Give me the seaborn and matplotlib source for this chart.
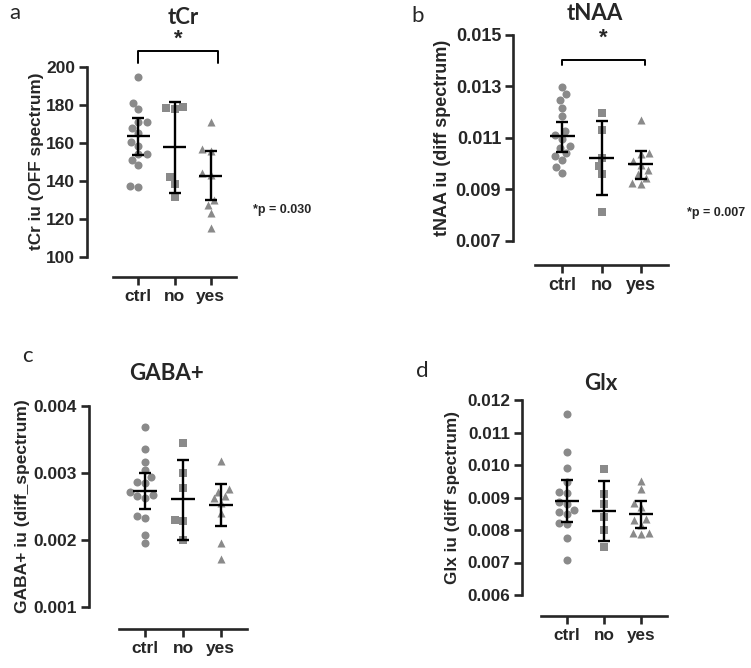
import numpy as np
import pandas as pd
import matplotlib
matplotlib.use("Agg")
import matplotlib.pyplot as plt
import seaborn as sns

GROUPS = ["ctrl", "no", "yes"]
MARKERS = ["o", "s", "^"]

# values
TCR_CTRL = [194.4, 180.7, 177.6, 171.0, 171.0, 167.6, 165.0, 160.5, 158.3,
            154.0, 153.9, 150.9, 148.3, 136.8, 137.2]
TCR_NO = [178.5, 179.0, 178.0, 141.8, 138.3, 131.6]
TCR_YES = [171.0, 155.5, 156.5, 144.0, 143.0, 130.0, 127.0, 123.0, 115.0]
TCR_MEAN = [163.5, 157.5, 142.5]
TCR_LO = [153.5, 133.5, 130.0]
TCR_HI = [173.0, 181.5, 155.5]

TNAA_CTRL = [0.01297, 0.01268, 0.01245, 0.01215, 0.01183, 0.01125, 0.01110,
             0.01095, 0.01068, 0.01060, 0.01040, 0.01027, 0.01012, 0.00985,
             0.00963]
TNAA_NO = [0.01195, 0.01130, 0.01020, 0.00990, 0.00960, 0.00810]
TNAA_YES = [0.01170, 0.01040, 0.01035, 0.01010, 0.00995, 0.00975, 0.00960,
            0.00945, 0.00925, 0.00920]
TNAA_MEAN = [0.01106, 0.01020, 0.00996]
TNAA_LO = [0.01046, 0.00877, 0.00939]
TNAA_HI = [0.01162, 0.01166, 0.01049]

GABA_CTRL = [0.00368, 0.00335, 0.00317, 0.00305, 0.00294, 0.00287, 0.00285,
             0.00272, 0.00267, 0.00265, 0.00262, 0.00235, 0.00232, 0.00207,
             0.00195]
GABA_NO = [0.00345, 0.00300, 0.00277, 0.00230, 0.00228, 0.00200]
GABA_YES = [0.00318, 0.00276, 0.00272, 0.00265, 0.00262, 0.00255, 0.00240,
            0.00195, 0.00172]
GABA_MEAN = [0.002734, 0.002605, 0.00252]
GABA_LO = [0.002455, 0.00200, 0.002206]
GABA_HI = [0.003003, 0.00320, 0.002835]

GLX_CTRL = [0.01156, 0.01039, 0.00990, 0.00949, 0.00918, 0.00915, 0.00885,
            0.00880, 0.00862, 0.00855, 0.00850, 0.00822, 0.00820, 0.00776,
            0.00708]
GLX_NO = [0.00988, 0.00910, 0.00880, 0.00840, 0.00800, 0.00748]
GLX_YES = [0.00952, 0.00925, 0.00882, 0.00870, 0.00835, 0.00830, 0.00815,
           0.00792, 0.00790, 0.00788]
GLX_MEAN = [0.00890, 0.00860, 0.00849]
GLX_LO = [0.00824, 0.00767, 0.00805]
GLX_HI = [0.00954, 0.00952, 0.00889]

W, H = 751, 668
DOT = "#8a8a8a"
TITLE_FONT = ["Lato", "DejaVu Sans"]


def px_rect(left, top, width, height):
    return [left / W, (H - top - height) / H, width / W, height / H]


def panel(ax, groups_vals, mean, lo, hi, ylim, yticks, fmt, ylabel,
          off_left, off_bottom, fs, lfs, label_x):
    for g, mk, vals in zip(GROUPS, MARKERS, groups_vals):
        d = pd.DataFrame({"group": [g] * len(vals), "value": vals})
        sns.swarmplot(data=d, x="group", y="value", order=GROUPS, marker=mk,
                      color=DOT, size=5.8, linewidth=0, ax=ax, zorder=1,
                      warn_thresh=1)
    x = np.arange(len(GROUPS))
    mean = np.array(mean)
    err = [mean - np.array(lo), np.array(hi) - mean]
    ax.errorbar(x, mean, yerr=err, fmt="none", ecolor="black",
                elinewidth=1.7, capsize=4.3, capthick=1.7, zorder=3)
    ax.hlines(mean, x - 0.32, x + 0.32, color="black", lw=1.7, zorder=3)

    ax.set_xlim(-0.7, 2.7)
    ax.set_ylim(*ylim)
    ax.set_yticks(yticks)
    ax.set_yticklabels([fmt.format(v) for v in yticks])
    ax.set_xticks(x)
    ax.set_xticklabels(GROUPS)
    ax.set_xlabel("")
    ax.set_ylabel(ylabel, fontsize=lfs, va="center")
    ax.yaxis.set_label_coords(label_x, 0.5)
    for s in ["top", "right"]:
        ax.spines[s].set_visible(False)
    ax.spines["left"].set_position(("outward", off_left * 0.72))
    ax.spines["bottom"].set_position(("outward", off_bottom * 0.72))
    for s in ["left", "bottom"]:
        ax.spines[s].set_linewidth(1.9)
    ax.tick_params(axis="both", direction="out", length=5.5, width=1.9,
                   pad=3, labelsize=fs)
    ax.grid(False)


def bracket(ax, x0, x1, y_line, y_tick, y_star):
    ax.plot([x0, x0, x1, x1], [y_tick, y_line, y_line, y_tick],
            color="black", lw=1.4, clip_on=False)
    ax.text((x0 + x1) / 2, y_star, "*", ha="center", va="center",
            fontsize=16, clip_on=False)


def main():
    sns.set_style("ticks")
    plt.rcParams["font.family"] = ["Liberation Sans", "DejaVu Sans"]
    plt.rcParams["font.weight"] = "bold"
    plt.rcParams["axes.labelweight"] = "bold"

    fig = plt.figure(figsize=(W / 100, H / 100), dpi=100)

    ax_a = fig.add_axes(px_rect(113, 66.7, 123, 190))
    ax_b = fig.add_axes(px_rect(535, 34.7, 133, 206))
    ax_c = fig.add_axes(px_rect(119, 406, 128, 200.7))
    ax_d = fig.add_axes(px_rect(541, 400, 126, 195))

    panel(ax_a, [TCR_CTRL, TCR_NO, TCR_YES], TCR_MEAN, TCR_LO, TCR_HI,
          (100, 200), np.arange(100, 201, 20), "{:.0f}",
          "tCr iu (OFF spectrum)", 26, 20, 12.5, 12.3, (37 - 113) / 123)
    panel(ax_b, [TNAA_CTRL, TNAA_NO, TNAA_YES], TNAA_MEAN, TNAA_LO, TNAA_HI,
          (0.007, 0.015), np.arange(0.007, 0.0151, 0.002), "{:.3f}",
          "tNAA iu (diff spectrum)", 22, 24, 13, 13, (442 - 535) / 133)
    panel(ax_c, [GABA_CTRL, GABA_NO, GABA_YES], GABA_MEAN, GABA_LO, GABA_HI,
          (0.001, 0.004), np.arange(0.001, 0.0041, 0.001), "{:.3f}",
          "GABA+ iu (diff_spectrum)", 30, 22, 12.5, 12.5, (23 - 119) / 128)
    panel(ax_d, [GLX_CTRL, GLX_NO, GLX_YES], GLX_MEAN, GLX_LO, GLX_HI,
          (0.006, 0.012), np.arange(0.006, 0.01201, 0.001), "{:.3f}",
          "Glx iu (diff spectrum)", 19, 21, 12.3, 12.3, (452 - 541) / 126)

    bracket(ax_a, 0, 2.2, 208.3, 202.0, 214.5)
    bracket(ax_b, 0, 2.1, 0.01402, 0.01382, 0.01487)

    # titles and panel letters
    for txt, xp, yp in [("tCr", 183, 17), ("tNAA", 595, 14),
                        ("GABA+", 167, 373), ("Glx", 601, 383)]:
        fig.text(xp / W, 1 - yp / H, txt, ha="center", va="center",
                 fontsize=16, fontweight="bold", family=TITLE_FONT)
    for txt, xp, yp in [("a", 15, 13), ("b", 418, 16),
                        ("c", 27, 356), ("d", 422, 371)]:
        fig.text(xp / W, 1 - yp / H, txt, ha="center", va="center",
                 fontsize=16, fontweight="normal", family=TITLE_FONT)

    for txt, xp, yp in [("*p = 0.030", 282, 210), ("*p = 0.007", 716, 213)]:
        fig.text(xp / W, 1 - yp / H, txt, ha="center", va="center",
                 fontsize=9, fontweight="bold",
                 family=["Liberation Sans Narrow", "Liberation Sans"])

    fig.savefig("out.png", dpi=100)
    plt.close(fig)


if __name__ == "__main__":
    main()
